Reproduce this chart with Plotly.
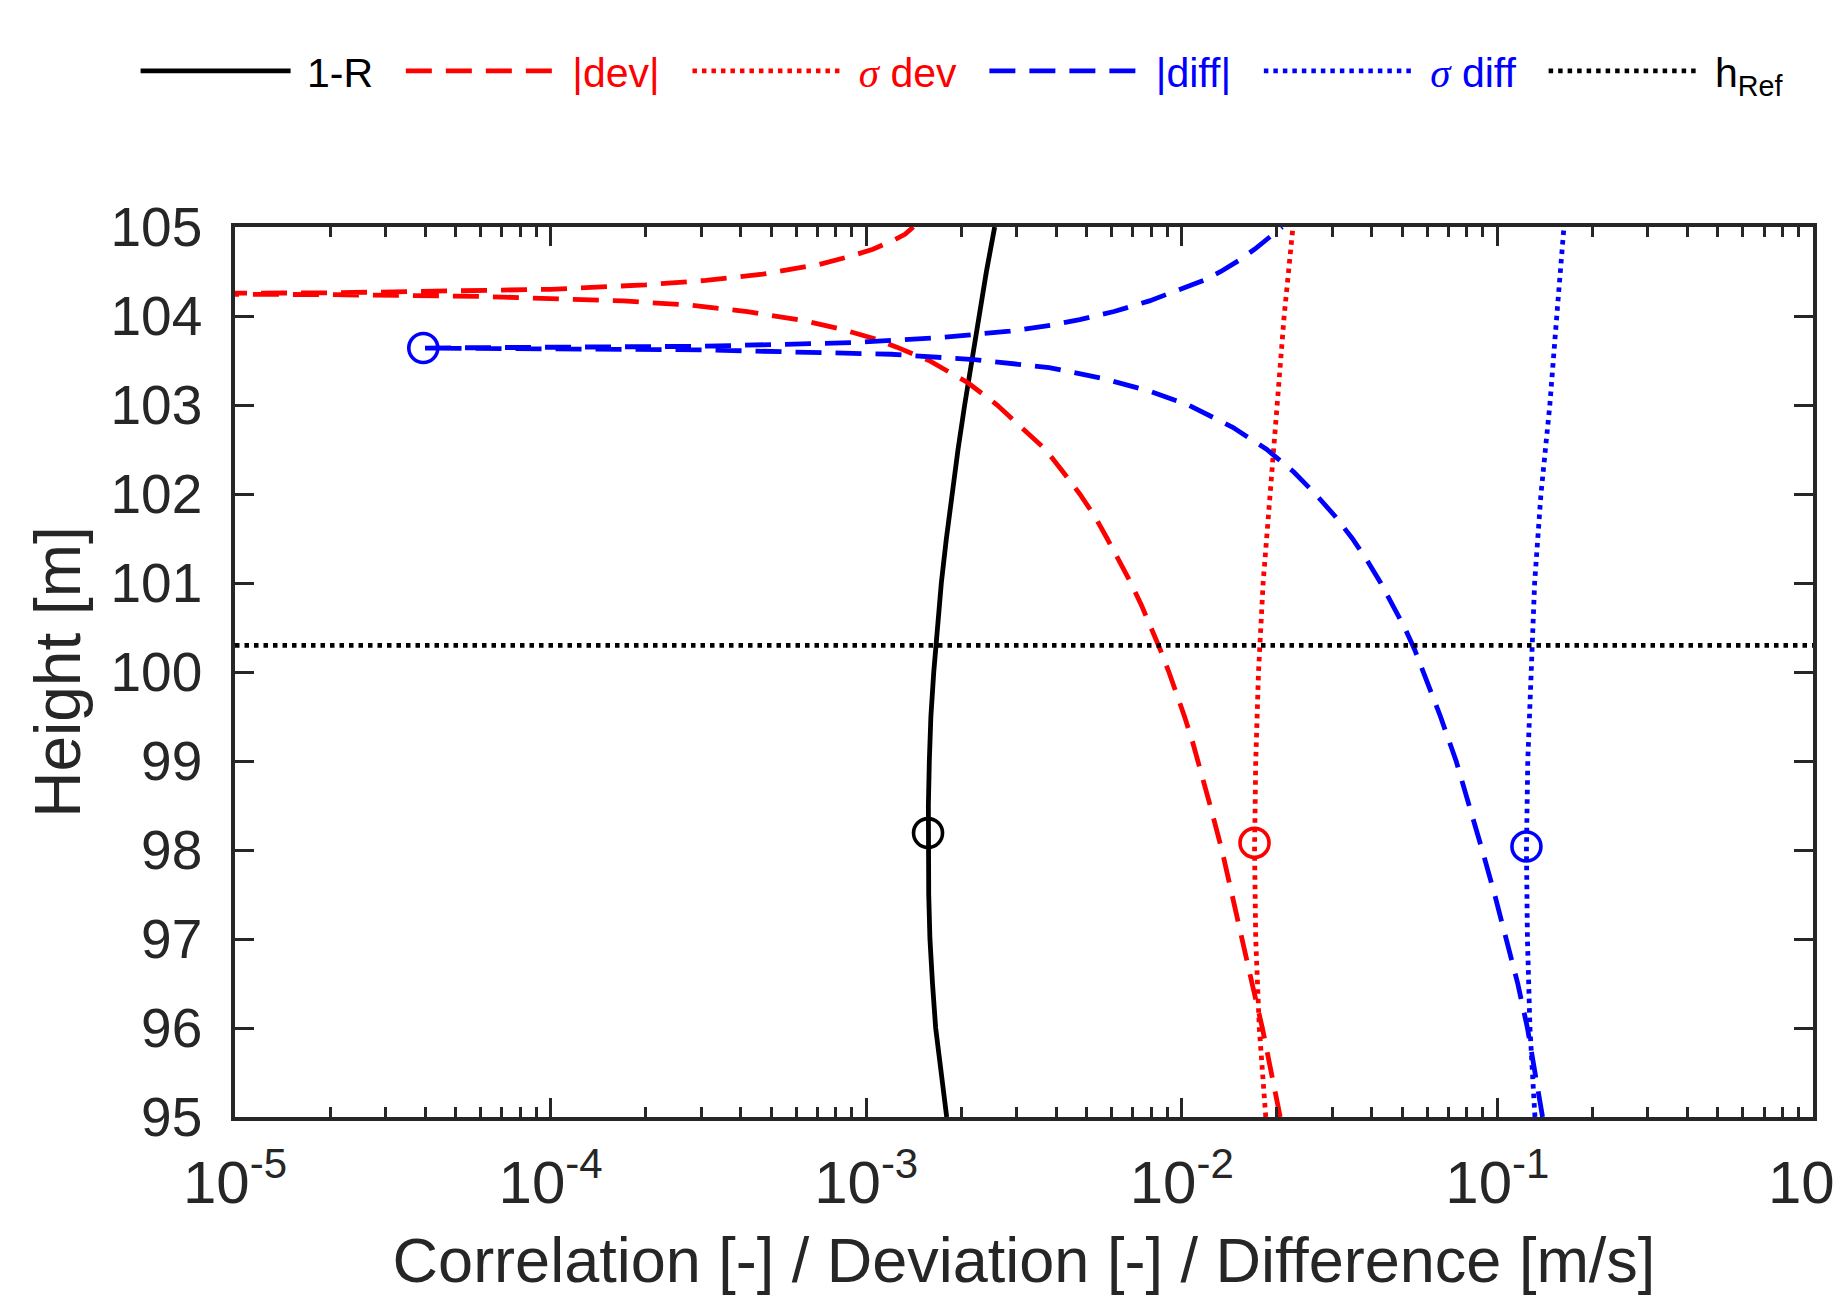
import plotly.graph_objects as go

# ---------------- data ----------------
# 1-R (correlation)
h_1mR = [95, 95.5, 96, 96.5, 97, 97.5, 98, 98.5, 99, 99.5, 100, 100.5, 101,
         101.5, 102, 102.5, 103, 103.5, 104, 104.5, 105]
v_1mR = [1.799e-3, 1.722e-3, 1.660e-3, 1.622e-3, 1.592e-3, 1.578e-3, 1.570e-3,
         1.574e-3, 1.585e-3, 1.603e-3, 1.637e-3, 1.679e-3, 1.730e-3, 1.795e-3,
         1.871e-3, 1.954e-3, 2.051e-3, 2.158e-3, 2.275e-3, 2.404e-3, 2.553e-3]

# |dev|
h_dev = [95, 95.5, 96, 96.5, 97, 97.5, 98, 98.5, 99, 99.25, 99.5, 99.75, 100,
         100.25, 100.5, 100.75, 101, 101.25, 101.5, 101.75, 102, 102.25, 102.5,
         102.75, 103, 103.25, 103.5, 103.65, 103.75, 103.85, 103.95, 104.05,
         104.12, 104.17, 104.2, 104.22, 104.24, 104.25, 104.26, 104.28, 104.3,
         104.35, 104.4, 104.47, 104.58, 104.67, 104.75, 104.85, 104.92, 105]
v_dev = [0.0205, 0.0192, 0.0180, 0.0167, 0.0155, 0.0144, 0.0134, 0.0123, 0.0113,
         0.01075, 0.0102, 0.00965, 0.0091, 0.00855, 0.0080, 0.00745, 0.0069,
         0.00635, 0.0058, 0.0053, 0.00475, 0.0042, 0.0037, 0.0031, 0.0026, 0.0021,
         0.00158, 0.00125, 0.00105, 8.4e-4, 6.3e-4, 4.2e-4, 2.8e-4, 1.7e-4, 1.0e-4,
         6e-5, 2.0e-5, 3e-6, 2.0e-5, 6e-5, 1.0e-4, 2.0e-4, 3.1e-4, 4.7e-4, 7.1e-4,
         8.9e-4, 1.05e-3, 1.22e-3, 1.33e-3, 1.41e-3]

# sigma dev
h_sdev = [95, 96, 97, 98, 99, 100, 101, 102, 103, 104, 105]
v_sdev = [0.01845, 0.0176, 0.01715, 0.0170, 0.01715, 0.0175, 0.0181, 0.0190,
          0.0200, 0.0211, 0.0225]

# |diff|
h_diff = [95, 95.5, 96, 96.5, 97, 97.5, 98, 98.5, 99, 99.5, 100, 100.25, 100.5,
          100.75, 101, 101.25, 101.5, 101.75, 102, 102.25, 102.5, 102.75, 103,
          103.15, 103.3, 103.42, 103.51, 103.57, 103.62, 103.64, 103.66, 103.70,
          103.76, 103.83, 103.9, 103.96, 104.05, 104.17, 104.3, 104.4, 104.5,
          104.62, 104.75, 104.85, 104.95, 105]
v_diff = [0.139, 0.1315, 0.1245, 0.116, 0.107, 0.098, 0.0895, 0.0815, 0.074,
          0.066, 0.0585, 0.0547, 0.0508, 0.0468, 0.0427, 0.0387, 0.0347, 0.0306,
          0.0265, 0.0226, 0.0186, 0.0145, 0.0105, 0.0080, 0.0056, 0.0038, 0.0022,
          0.0012, 3e-4, 3.95e-5, 3e-4, 9e-4, 1.75e-3, 2.85e-3, 3.9e-3, 4.75e-3,
          6.1e-3, 7.9e-3, 0.0100, 0.0117, 0.0133, 0.0151, 0.0170, 0.0185, 0.0200,
          0.0208]

# sigma diff
h_sdiff = [95, 96, 97, 98, 99, 100, 101, 102, 103, 104, 105]
v_sdiff = [0.1315, 0.1268, 0.1245, 0.1236, 0.1248, 0.1275, 0.1312, 0.1374,
           0.1466, 0.1542, 0.1625]

# reference height
h_ref = 100.3

# circle markers (extreme points)
mark_black = (1.57e-3, 98.19)
mark_red = (0.0170, 98.08)
mark_blue = [(0.1236, 98.04), (3.95e-5, 103.64)]

# axis ticks
x_tickvals = [1e-5, 1e-4, 1e-3, 1e-2, 1e-1, 1]
x_ticktext = ["10<sup>-5</sup>", "10<sup>-4</sup>", "10<sup>-3</sup>",
              "10<sup>-2</sup>", "10<sup>-1</sup>", "10<sup>0</sup>"]
y_tickvals = [95, 96, 97, 98, 99, 100, 101, 102, 103, 104, 105]
x_minor = [m * 10.0 ** e for e in range(-5, 0) for m in range(2, 10)]

# ---------------- styling ----------------
FONT = "Liberation Sans, Arial, Helvetica, sans-serif"
AX = "#262626"
RED = "#ff0000"
BLUE = "#0000ff"
LW = 4.8
DASH = "26px,14px"
DOT = "4.5px,5px"
NB = "\u00a0"
TAIL = NB * 2


def legname(html):
    return NB + html + TAIL


fig = go.Figure()

fig.add_trace(go.Scatter(x=v_1mR, y=h_1mR, mode="lines", name=legname("1-R"),
                         line=dict(color="black", width=LW)))
fig.add_trace(go.Scatter(x=v_dev, y=h_dev, mode="lines",
                         name=legname('<span style="color:#ff0000">|dev|</span>'),
                         line=dict(color=RED, width=LW, dash=DASH)))
fig.add_trace(go.Scatter(x=v_sdev, y=h_sdev, mode="lines",
                         name=legname('<span style="color:#ff0000;font-family:Liberation Serif"><i>σ</i></span>'
                                      '<span style="color:#ff0000"> dev</span>'),
                         line=dict(color=RED, width=LW, dash=DOT)))
fig.add_trace(go.Scatter(x=v_diff, y=h_diff, mode="lines",
                         name=legname('<span style="color:#0000ff">|diff|</span>'),
                         line=dict(color=BLUE, width=LW, dash=DASH)))
fig.add_trace(go.Scatter(x=v_sdiff, y=h_sdiff, mode="lines",
                         name=legname('<span style="color:#0000ff;font-family:Liberation Serif"><i>σ</i></span>'
                                      '<span style="color:#0000ff"> diff</span>'),
                         line=dict(color=BLUE, width=LW, dash=DOT)))
fig.add_trace(go.Scatter(x=[x_tickvals[0], x_tickvals[-1]], y=[h_ref, h_ref],
                         mode="lines", name=NB + "h<sub>Ref</sub>",
                         line=dict(color="black", width=LW, dash=DOT)))

# markers
MS = 29
MW = 3.6
fig.add_trace(go.Scatter(x=[mark_black[0]], y=[mark_black[1]], mode="markers",
                         showlegend=False, cliponaxis=False,
                         marker=dict(symbol="circle-open", size=MS, color="black",
                                     line=dict(width=MW, color="black"))))
fig.add_trace(go.Scatter(x=[mark_red[0]], y=[mark_red[1]], mode="markers",
                         showlegend=False, cliponaxis=False,
                         marker=dict(symbol="circle-open", size=MS, color=RED,
                                     line=dict(width=MW, color=RED))))
fig.add_trace(go.Scatter(x=[p[0] for p in mark_blue], y=[p[1] for p in mark_blue],
                         mode="markers", showlegend=False, cliponaxis=False,
                         marker=dict(symbol="circle-open", size=MS, color=BLUE,
                                     line=dict(width=MW, color=BLUE))))

fig.update_layout(
    width=1844, height=1298,
    margin=dict(l=227, r=39, t=219, b=189, autoexpand=False),
    paper_bgcolor="white", plot_bgcolor="white",
    font=dict(family=FONT, color=AX),
    showlegend=True,
    legend=dict(orientation="h", x=-0.063, xanchor="left", y=1.175,
                yanchor="middle", font=dict(size=41, family=FONT, color="black"),
                itemwidth=150, bgcolor="rgba(0,0,0,0)", tracegroupgap=0),
    xaxis=dict(type="log", range=[-5, 0], tickvals=x_tickvals, ticktext=x_ticktext,
               ticks="inside", ticklen=19, tickwidth=3, tickcolor=AX,
               showline=True, linewidth=3.5, linecolor=AX, mirror="ticks",
               showgrid=False, zeroline=False,
               tickfont=dict(size=60, family=FONT, color=AX),
               ticklabelstandoff=10, ticklabeloverflow="allow",
               minor=dict(tickvals=x_minor, ticks="inside", ticklen=10,
                          tickwidth=3, tickcolor=AX, showgrid=False),
               title=dict(text="Correlation [-] / Deviation [-] / Difference [m/s]",
                          font=dict(size=63, family=FONT, color=AX), standoff=24)),
    yaxis=dict(range=[95, 105], tickvals=y_tickvals,
               ticks="inside", ticklen=19, tickwidth=3, tickcolor=AX,
               showline=True, linewidth=3.5, linecolor=AX, mirror="ticks",
               showgrid=False, zeroline=False,
               tickfont=dict(size=55, family=FONT, color=AX),
               ticklabelstandoff=18,
               title=dict(text="Height [m]", font=dict(size=64, family=FONT, color=AX),
                          standoff=10)),
)

fig.write_html("out.html")
